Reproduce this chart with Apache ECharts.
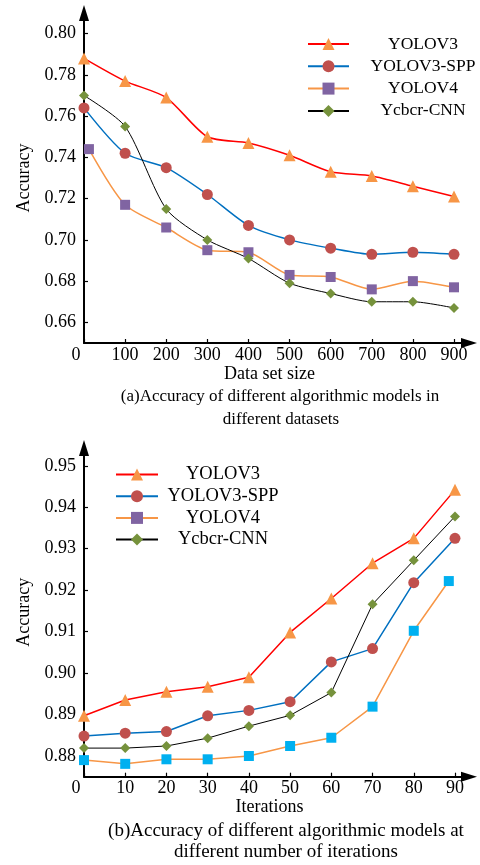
<!DOCTYPE html>
<html>
<head>
<meta charset="utf-8">
<script src="https://cdn.jsdelivr.net/npm/echarts@6/dist/echarts.min.js"></script>
<style>
html,body{margin:0;padding:0;background:#fff;}
#c{width:480px;height:865px;}
</style>
</head>
<body>
<div id="c"></div>
<script>
// ---- Chart (a): accuracy vs data set size ----
const seriesNames = ['YOLOV3', 'YOLOV3-SPP', 'YOLOV4', 'Ycbcr-CNN'];
const sizeX = [0, 100, 200, 300, 400, 500, 600, 700, 800, 900];
const sizeXv4 = [12, 100, 200, 300, 400, 500, 600, 700, 800, 900];
const aYOLOV3 = [0.788, 0.777, 0.769, 0.750, 0.747, 0.741, 0.733, 0.731, 0.726, 0.721];
const aYOLOV3SPP = [0.764, 0.742, 0.735, 0.722, 0.707, 0.700, 0.696, 0.693, 0.694, 0.693];
const aYOLOV4 = [0.744, 0.717, 0.706, 0.695, 0.694, 0.683, 0.682, 0.676, 0.680, 0.677];
const aYcbcr = [0.770, 0.755, 0.715, 0.700, 0.691, 0.679, 0.674, 0.670, 0.670, 0.667];
const sizeTicks = [0, 100, 200, 300, 400, 500, 600, 700, 800, 900];
const accTicksA = [0.66, 0.68, 0.70, 0.72, 0.74, 0.76, 0.78, 0.80];

// ---- Chart (b): accuracy vs iterations ----
const iterX = [0, 10, 20, 30, 40, 50, 60, 70, 80, 90];
const iterXv4 = [0, 10, 20, 30, 40, 50, 60, 70, 80, 88.5];
const bYOLOV3 = [0.8897, 0.8935, 0.8955, 0.8967, 0.8990, 0.9098, 0.9180, 0.9265, 0.9325, 0.9442];
const bYOLOV3SPP = [0.8848, 0.8855, 0.8859, 0.8897, 0.8910, 0.8931, 0.9027, 0.9059, 0.9218, 0.9325];
const bYOLOV4 = [0.8790, 0.8781, 0.8792, 0.8792, 0.8800, 0.8824, 0.8844, 0.8919, 0.9102, 0.9222];
const bYcbcr = [0.8819, 0.8819, 0.8824, 0.8843, 0.8872, 0.8898, 0.8953, 0.9166, 0.9272, 0.9378];
const iterTicks = [0, 10, 20, 30, 40, 50, 60, 70, 80, 90];
const accTicksB = [0.88, 0.89, 0.90, 0.91, 0.92, 0.93, 0.94, 0.95];

const captionA = ['(a)Accuracy of different algorithmic models in', 'different datasets'];
const captionB = ['(b)Accuracy of different algorithmic models at', 'different number of iterations'];

const FONT = '"Liberation Serif", "Times New Roman", serif';
const pairs = (xs, ys) => xs.map((x, i) => [x, ys[i]]);

const styles = {
  'YOLOV3': {line: '#FF0000', w: 1.5, sym: 'triangle', size: 12, fill: '#F79646'},
  'YOLOV3-SPP': {line: '#0070C0', w: 1.5, sym: 'circle', size: 11, fill: '#C0504D'},
  'YOLOV4': {line: '#F79646', w: 1.5, sym: 'rect', size: 10, fill: '#8064A2'},
  'Ycbcr-CNN': {line: '#000000', w: 1, sym: 'diamond', size: 10, fill: '#76923C'}
};

function mkSeries(name, data, idx, smooth, fillOverride) {
  const s = styles[name];
  return {
    name: name, type: 'line', xAxisIndex: idx, yAxisIndex: idx,
    data: data, smooth: smooth, symbol: s.sym, symbolSize: s.size,
    showAllSymbol: true,
    lineStyle: {color: s.line, width: s.w},
    itemStyle: {color: fillOverride || s.fill, borderWidth: 0},
    emphasis: {disabled: true}, animation: false
  };
}

function xAxisCfg(idx, max, ticks, name) {
  return {
    type: 'value', gridIndex: idx, min: 0, max: max,
    name: name, nameLocation: 'middle', nameGap: 20,
    nameTextStyle: {fontFamily: FONT, fontSize: 18, color: '#000', padding: [0, 14, 0, 0]},
    axisLine: {show: true, onZero: false, symbol: ['none', 'triangle'], symbolSize: [10, 16],
      lineStyle: {color: '#000', width: 2}},
    axisTick: {show: true, inside: true, length: 4, lineStyle: {color: '#000', width: 1.2}, customValues: ticks},
    axisLabel: {customValues: ticks, fontFamily: FONT, fontSize: 18, color: '#000', margin: 3,
      formatter: v => v === 0 ? '{z|0}' : String(v),
      rich: {z: {fontFamily: FONT, fontSize: 18, color: '#000', padding: [0, 16, 0, 0]}}},
    splitLine: {show: false}
  };
}

function yAxisCfg(idx, min, max, ticks) {
  return {
    type: 'value', gridIndex: idx, min: min, max: max,
    name: 'Accuracy', nameLocation: 'middle', nameGap: 51,
    nameTextStyle: {fontFamily: FONT, fontSize: 18, color: '#000'},
    axisLine: {show: true, symbol: ['none', 'triangle'], symbolSize: [10, 16],
      lineStyle: {color: '#000', width: 2}},
    axisTick: {show: true, inside: true, length: 4, lineStyle: {color: '#000', width: 1.2}, customValues: ticks},
    axisLabel: {customValues: ticks, fontFamily: FONT, fontSize: 18, color: '#000', margin: 8,
      formatter: v => v.toFixed(2)},
    splitLine: {show: false}
  };
}

function legendCfg(left, top, gap, itemW, textW, fontSize, dataItems) {
  return {
    orient: 'vertical', left: left, top: top, itemWidth: itemW, itemHeight: 15, itemGap: gap,
    selectedMode: false, data: dataItems,
    formatter: '{c|{name}}',
    textStyle: {fontFamily: FONT, fontSize: fontSize, color: '#000', lineHeight: 14,
      rich: {c: {width: textW, align: 'center', fontFamily: FONT, fontSize: fontSize, color: '#000', lineHeight: 14}}}
  };
}

function caption(text, x, y, size) {
  return {type: 'text', x: x, y: y, silent: true,
    style: {text: text, font: size + 'px ' + FONT, fill: '#000', textAlign: 'center', textVerticalAlign: 'middle'}};
}

const chart = echarts.init(document.getElementById('c'), null, {renderer: 'canvas'});
chart.setOption({
  backgroundColor: '#fff',
  animation: false,
  grid: [
    {left: 84, right: 11, top: 13, bottom: 522},
    {left: 84, right: 11, top: 448, bottom: 88.3}
  ],
  xAxis: [
    xAxisCfg(0, 936.5, sizeTicks, 'Data set size'),
    xAxisCfg(1, 93.4, iterTicks, 'Iterations')
  ],
  yAxis: [
    yAxisCfg(0, 0.65, 0.81, accTicksA),
    yAxisCfg(1, 0.875, 0.9543, accTicksB)
  ],
  legend: [
    legendCfg(302, 30, 4.3, 41, 138, 17.5, seriesNames.map(n => ({name: n}))),
    legendCfg(110, 460, 2.7, 42, 120, 18.5, seriesNames.map(n => n === 'YOLOV4'
      ? {name: n, itemStyle: {color: '#8064A2'}} : {name: n}))
  ],
  series: [
    mkSeries('YOLOV3', pairs(sizeX, aYOLOV3), 0, 0.25),
    mkSeries('YOLOV3-SPP', pairs(sizeX, aYOLOV3SPP), 0, 0.25),
    mkSeries('YOLOV4', pairs(sizeXv4, aYOLOV4), 0, 0.25),
    mkSeries('Ycbcr-CNN', pairs(sizeX, aYcbcr), 0, 0.25),
    mkSeries('YOLOV3', pairs(iterX, bYOLOV3), 1, false),
    mkSeries('YOLOV3-SPP', pairs(iterX, bYOLOV3SPP), 1, false),
    mkSeries('YOLOV4', pairs(iterXv4, bYOLOV4), 1, false, '#00B0F0'),
    mkSeries('Ycbcr-CNN', pairs(iterX, bYcbcr), 1, false)
  ],
  graphic: [
    caption(captionA[0], 280, 397, 17),
    caption(captionA[1], 281, 420, 17),
    caption(captionB[0], 286, 831, 19),
    caption(captionB[1], 286, 852, 19)
  ]
});
</script>
</body>
</html>
